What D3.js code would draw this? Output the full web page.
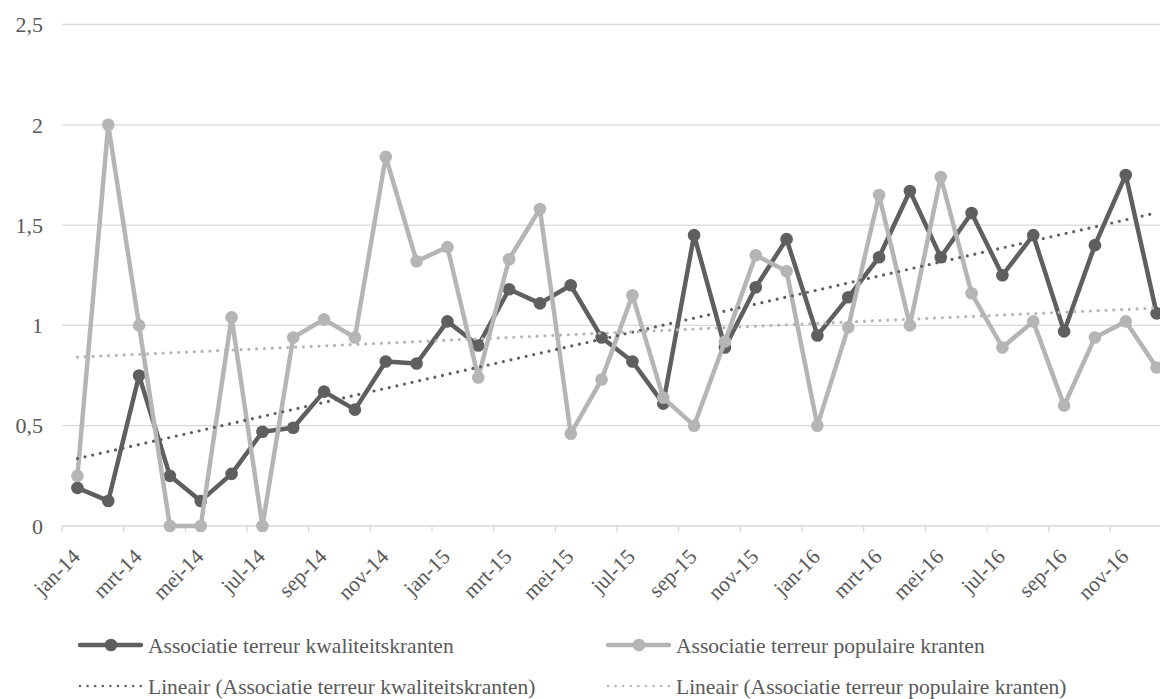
<!DOCTYPE html>
<html>
<head>
<meta charset="utf-8">
<script src="https://cdn.jsdelivr.net/npm/d3@7"></script>
<style>
  html, body { margin: 0; padding: 0; background: #fff; }
  svg { display: block; }
  text { font-family: "Liberation Serif", "Times New Roman", serif; fill: #595959; }
</style>
</head>
<body>
<svg id="chart" width="1160" height="699"></svg>
<script>
const months = ["jan-14","feb-14","mrt-14","apr-14","mei-14","jun-14","jul-14","aug-14","sep-14","okt-14","nov-14","dec-14",
                "jan-15","feb-15","mrt-15","apr-15","mei-15","jun-15","jul-15","aug-15","sep-15","okt-15","nov-15","dec-15",
                "jan-16","feb-16","mrt-16","apr-16","mei-16","jun-16","jul-16","aug-16","sep-16","okt-16","nov-16","dec-16"];
const kwaliteit = [0.19,0.125,0.75,0.25,0.125,0.26,0.47,0.49,0.67,0.58,0.82,0.81,
                   1.02,0.90,1.18,1.11,1.20,0.94,0.82,0.61,1.45,0.89,1.19,1.43,
                   0.95,1.14,1.34,1.67,1.34,1.56,1.25,1.45,0.97,1.40,1.75,1.06];
const populair = [0.25,2.0,1.0,0,0,1.04,0,0.94,1.03,0.94,1.84,1.32,
                  1.39,0.74,1.33,1.58,0.46,0.73,1.15,0.64,0.50,0.92,1.35,1.27,
                  0.50,0.99,1.65,1.0,1.74,1.16,0.89,1.02,0.60,0.94,1.02,0.79];
const yTicks = [0, 0.5, 1, 1.5, 2, 2.5];
const xTickLabels = ["jan-14","mrt-14","mei-14","jul-14","sep-14","nov-14","jan-15","mrt-15","mei-15","jul-15","sep-15","nov-15","jan-16","mrt-16","mei-16","jul-16","sep-16","nov-16"];
const seriesNames = ["Associatie terreur kwaliteitskranten","Associatie terreur populaire kranten"];
const trendNames = ["Lineair (Associatie terreur kwaliteitskranten)","Lineair (Associatie terreur populaire kranten)"];

const darkC = "#5f5f5f", lightC = "#b5b5b5", gridC = "#d9d9d9";

const svg = d3.select("#chart");
const x = d3.scaleBand().domain(months).range([62, 1172]).paddingInner(0).paddingOuter(0);
const y = d3.scaleLinear().domain([0, 2.5]).range([526, 24.5]);
const cx = m => x(m) + x.bandwidth() / 2;

// gridlines
svg.append("g").selectAll("line").data(yTicks.filter(d => d > 0)).join("line")
  .attr("x1", 62).attr("x2", 1172).attr("y1", d => y(d)).attr("y2", d => y(d))
  .attr("stroke", gridC).attr("stroke-width", 1.3);

// y labels
svg.append("g").selectAll("text").data(yTicks).join("text")
  .attr("x", 43).attr("y", d => y(d)).attr("dy", "0.35em")
  .attr("text-anchor", "end").attr("font-size", 22)
  .text(d => d3.format(".1~f")(d).replace(".", ","));

// x axis line and ticks
svg.append("line").attr("x1", 62).attr("x2", 1172).attr("y1", y(0)).attr("y2", y(0))
  .attr("stroke", gridC).attr("stroke-width", 1.3);
svg.append("g").selectAll("line").data(months.filter((m, i) => i % 2 === 0)).join("line")
  .attr("x1", d => x(d)).attr("x2", d => x(d)).attr("y1", y(0)).attr("y2", y(0) + 6)
  .attr("stroke", gridC).attr("stroke-width", 1.3);

// x labels
svg.append("g").selectAll("text").data(xTickLabels).join("text")
  .attr("transform", d => `translate(${cx(d) + 4},${y(0) + 32}) rotate(-45)`)
  .attr("text-anchor", "end").attr("font-size", 21.5)
  .text(d => d);

// series
function drawSeries(vals, color) {
  const line = d3.line().x((d, i) => cx(months[i])).y(d => y(d));
  svg.append("path").datum(vals).attr("d", line)
    .attr("fill", "none").attr("stroke", color).attr("stroke-width", 4.5)
    .attr("stroke-linejoin", "round");
  svg.append("g").selectAll("circle").data(vals).join("circle")
    .attr("cx", (d, i) => cx(months[i])).attr("cy", d => y(d)).attr("r", 6.3)
    .attr("fill", color);
}
drawSeries(kwaliteit, darkC);
drawSeries(populair, lightC);

// linear trendlines
function trend(vals, color) {
  const n = vals.length;
  const xs = d3.range(n);
  const mx = d3.mean(xs), my = d3.mean(vals);
  const b = d3.sum(xs, i => (i - mx) * (vals[i] - my)) / d3.sum(xs, i => (i - mx) ** 2);
  const a = my - b * mx;
  svg.append("line")
    .attr("x1", cx(months[0])).attr("y1", y(a))
    .attr("x2", cx(months[n - 1])).attr("y2", y(a + b * (n - 1)))
    .attr("stroke", color).attr("stroke-width", 3.2).attr("stroke-linecap", "round")
    .attr("stroke-dasharray", "0 7.8");
}
trend(kwaliteit, darkC);
trend(populair, lightC);

// legend
const leg = svg.append("g");
const legItems = [
  {x: 78, y: 645, name: seriesNames[0], color: darkC, type: "line"},
  {x: 606, y: 645, name: seriesNames[1], color: lightC, type: "line"},
  {x: 78, y: 686, name: trendNames[0], color: darkC, type: "dot"},
  {x: 606, y: 686, name: trendNames[1], color: lightC, type: "dot"}
];
legItems.forEach(it => {
  const g = leg.append("g");
  if (it.type === "line") {
    g.append("line").attr("x1", it.x + 2).attr("x2", it.x + 63).attr("y1", it.y).attr("y2", it.y)
      .attr("stroke", it.color).attr("stroke-width", 4.5).attr("stroke-linecap", "round");
    g.append("circle").attr("cx", it.x + 33).attr("cy", it.y).attr("r", 6.3).attr("fill", it.color);
  } else {
    g.append("line").attr("x1", it.x + 2).attr("x2", it.x + 63).attr("y1", it.y).attr("y2", it.y)
      .attr("stroke", it.color).attr("stroke-width", 2.5).attr("stroke-linecap", "round")
      .attr("stroke-dasharray", "0 7.6");
  }
  g.append("text").attr("x", it.x + 70).attr("y", it.y).attr("dy", "0.35em")
    .attr("font-size", 21.5).text(it.name);
});
</script>
</body>
</html>
